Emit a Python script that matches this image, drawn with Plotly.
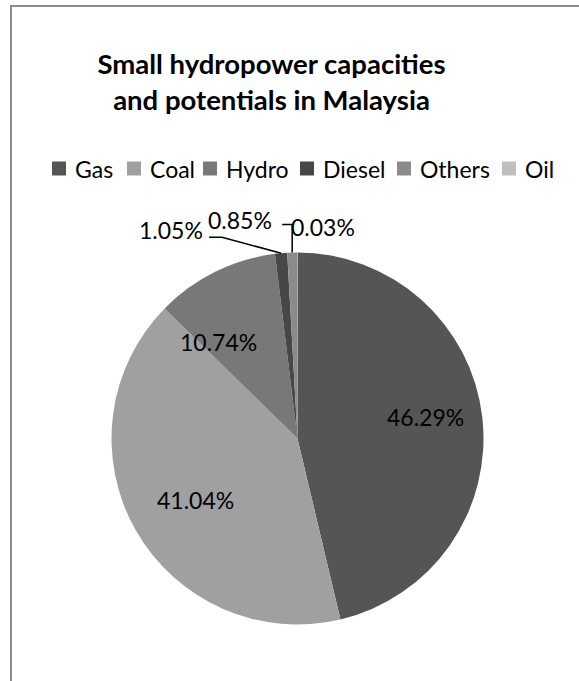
import math
import plotly.graph_objects as go

W, H = 579, 681

# Generation mix shares (%)
sources = ["Gas", "Coal", "Hydro", "Diesel", "Others", "Oil"]
shares = [46.29, 41.04, 10.74, 1.05, 0.85, 0.03]
colors = ["#555555", "#a0a0a0", "#787878", "#474747", "#8b8b8b", "#bfbfbf"]

# left edge of each legend entry's text (pixels)
legend_text_x = [73, 148, 224, 321, 418, 523]

FONT = "Lato"
CX, CY, R = 297.5, 438.5, 186.0  # pie centre / radius in pixels


def px(x):
    return x / W


def py(y):
    return 1 - y / H


def mid_angle(i):
    total = sum(shares)
    start = sum(shares[:i])
    return 2 * math.pi * (start + shares[i] / 2) / total


def polar(theta, r):
    return CX + r * math.sin(theta), CY - r * math.cos(theta)


fig = go.Figure(
    go.Pie(
        labels=sources,
        values=shares,
        sort=False,
        direction="clockwise",
        rotation=0,
        marker=dict(colors=colors, line=dict(width=0)),
        textinfo="none",
        hoverinfo="label+percent",
        showlegend=False,
        domain=dict(x=[px(CX - R), px(CX + R)], y=[py(CY + R), py(CY - R)]),
    )
)

annotations = []
shapes = []
label_font = dict(family=FONT, size=23, color="#000")

# labels inside the large slices: (radius fraction, angular nudge in degrees)
inside_place = {0: (0.70, -3.0), 1: (0.64, -1.5), 2: (0.67, -13.0)}
for i, (frac, nudge) in inside_place.items():
    x, y = polar(mid_angle(i) + math.radians(nudge), frac * R)
    annotations.append(dict(
        x=px(x), y=py(y), xref="paper", yref="paper", showarrow=False,
        xanchor="center", yanchor="middle",
        text=f"{shares[i]:.2f}%", font=label_font,
    ))

# labels outside the thin slices, offset from each slice's rim point
outside_offset = {3: (-110, -23), 4: (-52, -33), 5: (25.5, -25.5)}
for i, (dx, dy) in outside_offset.items():
    ex, ey = polar(mid_angle(i), R)
    lx, ly = ex + dx, ey + dy
    annotations.append(dict(
        x=px(lx), y=py(ly), xref="paper", yref="paper", showarrow=False,
        xanchor="center", yanchor="middle",
        text=f"{shares[i]:.2f}%", font=label_font,
    ))
    if i == 3:
        sx, sy = lx + 38, ly + 7
        path = f"M{px(sx)},{py(sy)} L{px(sx + 13)},{py(sy)} L{px(ex)},{py(ey)}"
    elif i == 4:
        sx, sy = lx + 42, ly + 5
        path = f"M{px(sx)},{py(sy)} L{px(ex)},{py(sy)} L{px(ex)},{py(ey)}"
    else:
        continue
    shapes.append(dict(type="path", xref="paper", yref="paper", path=path,
                       line=dict(color="#000", width=1.5)))

# legend row: swatch + name for each source
LEG_Y = 168.5
for name, col, tx in zip(sources, colors, legend_text_x):
    shapes.append(dict(type="rect", xref="paper", yref="paper",
                       x0=px(tx - 21), x1=px(tx - 7),
                       y0=py(LEG_Y + 7), y1=py(LEG_Y - 7),
                       fillcolor=col, line=dict(width=0)))
    annotations.append(dict(
        x=px(tx), y=py(LEG_Y), xref="paper", yref="paper", showarrow=False,
        xanchor="left", yanchor="middle", text=name,
        font=dict(family=FONT, size=23, color="#000"),
    ))

# chart area frame
shapes.append(dict(type="rect", xref="paper", yref="paper",
                   x0=px(11), x1=1.02, y0=-0.02, y1=py(6),
                   line=dict(color="#8c8c8c", width=2), layer="below"))

fig.update_layout(
    width=W, height=H,
    margin=dict(l=0, r=0, t=0, b=0),
    paper_bgcolor="white",
    plot_bgcolor="white",
    showlegend=False,
    title=dict(
        text="Small hydropower capacities<br>and potentials in Malaysia",
        x=px(271.5), xanchor="center", y=py(74), yanchor="middle",
        font=dict(family=FONT, size=27.5, color="#000", weight="bold"),
    ),
    annotations=annotations,
    shapes=shapes,
)

fig.write_html("out.html")
